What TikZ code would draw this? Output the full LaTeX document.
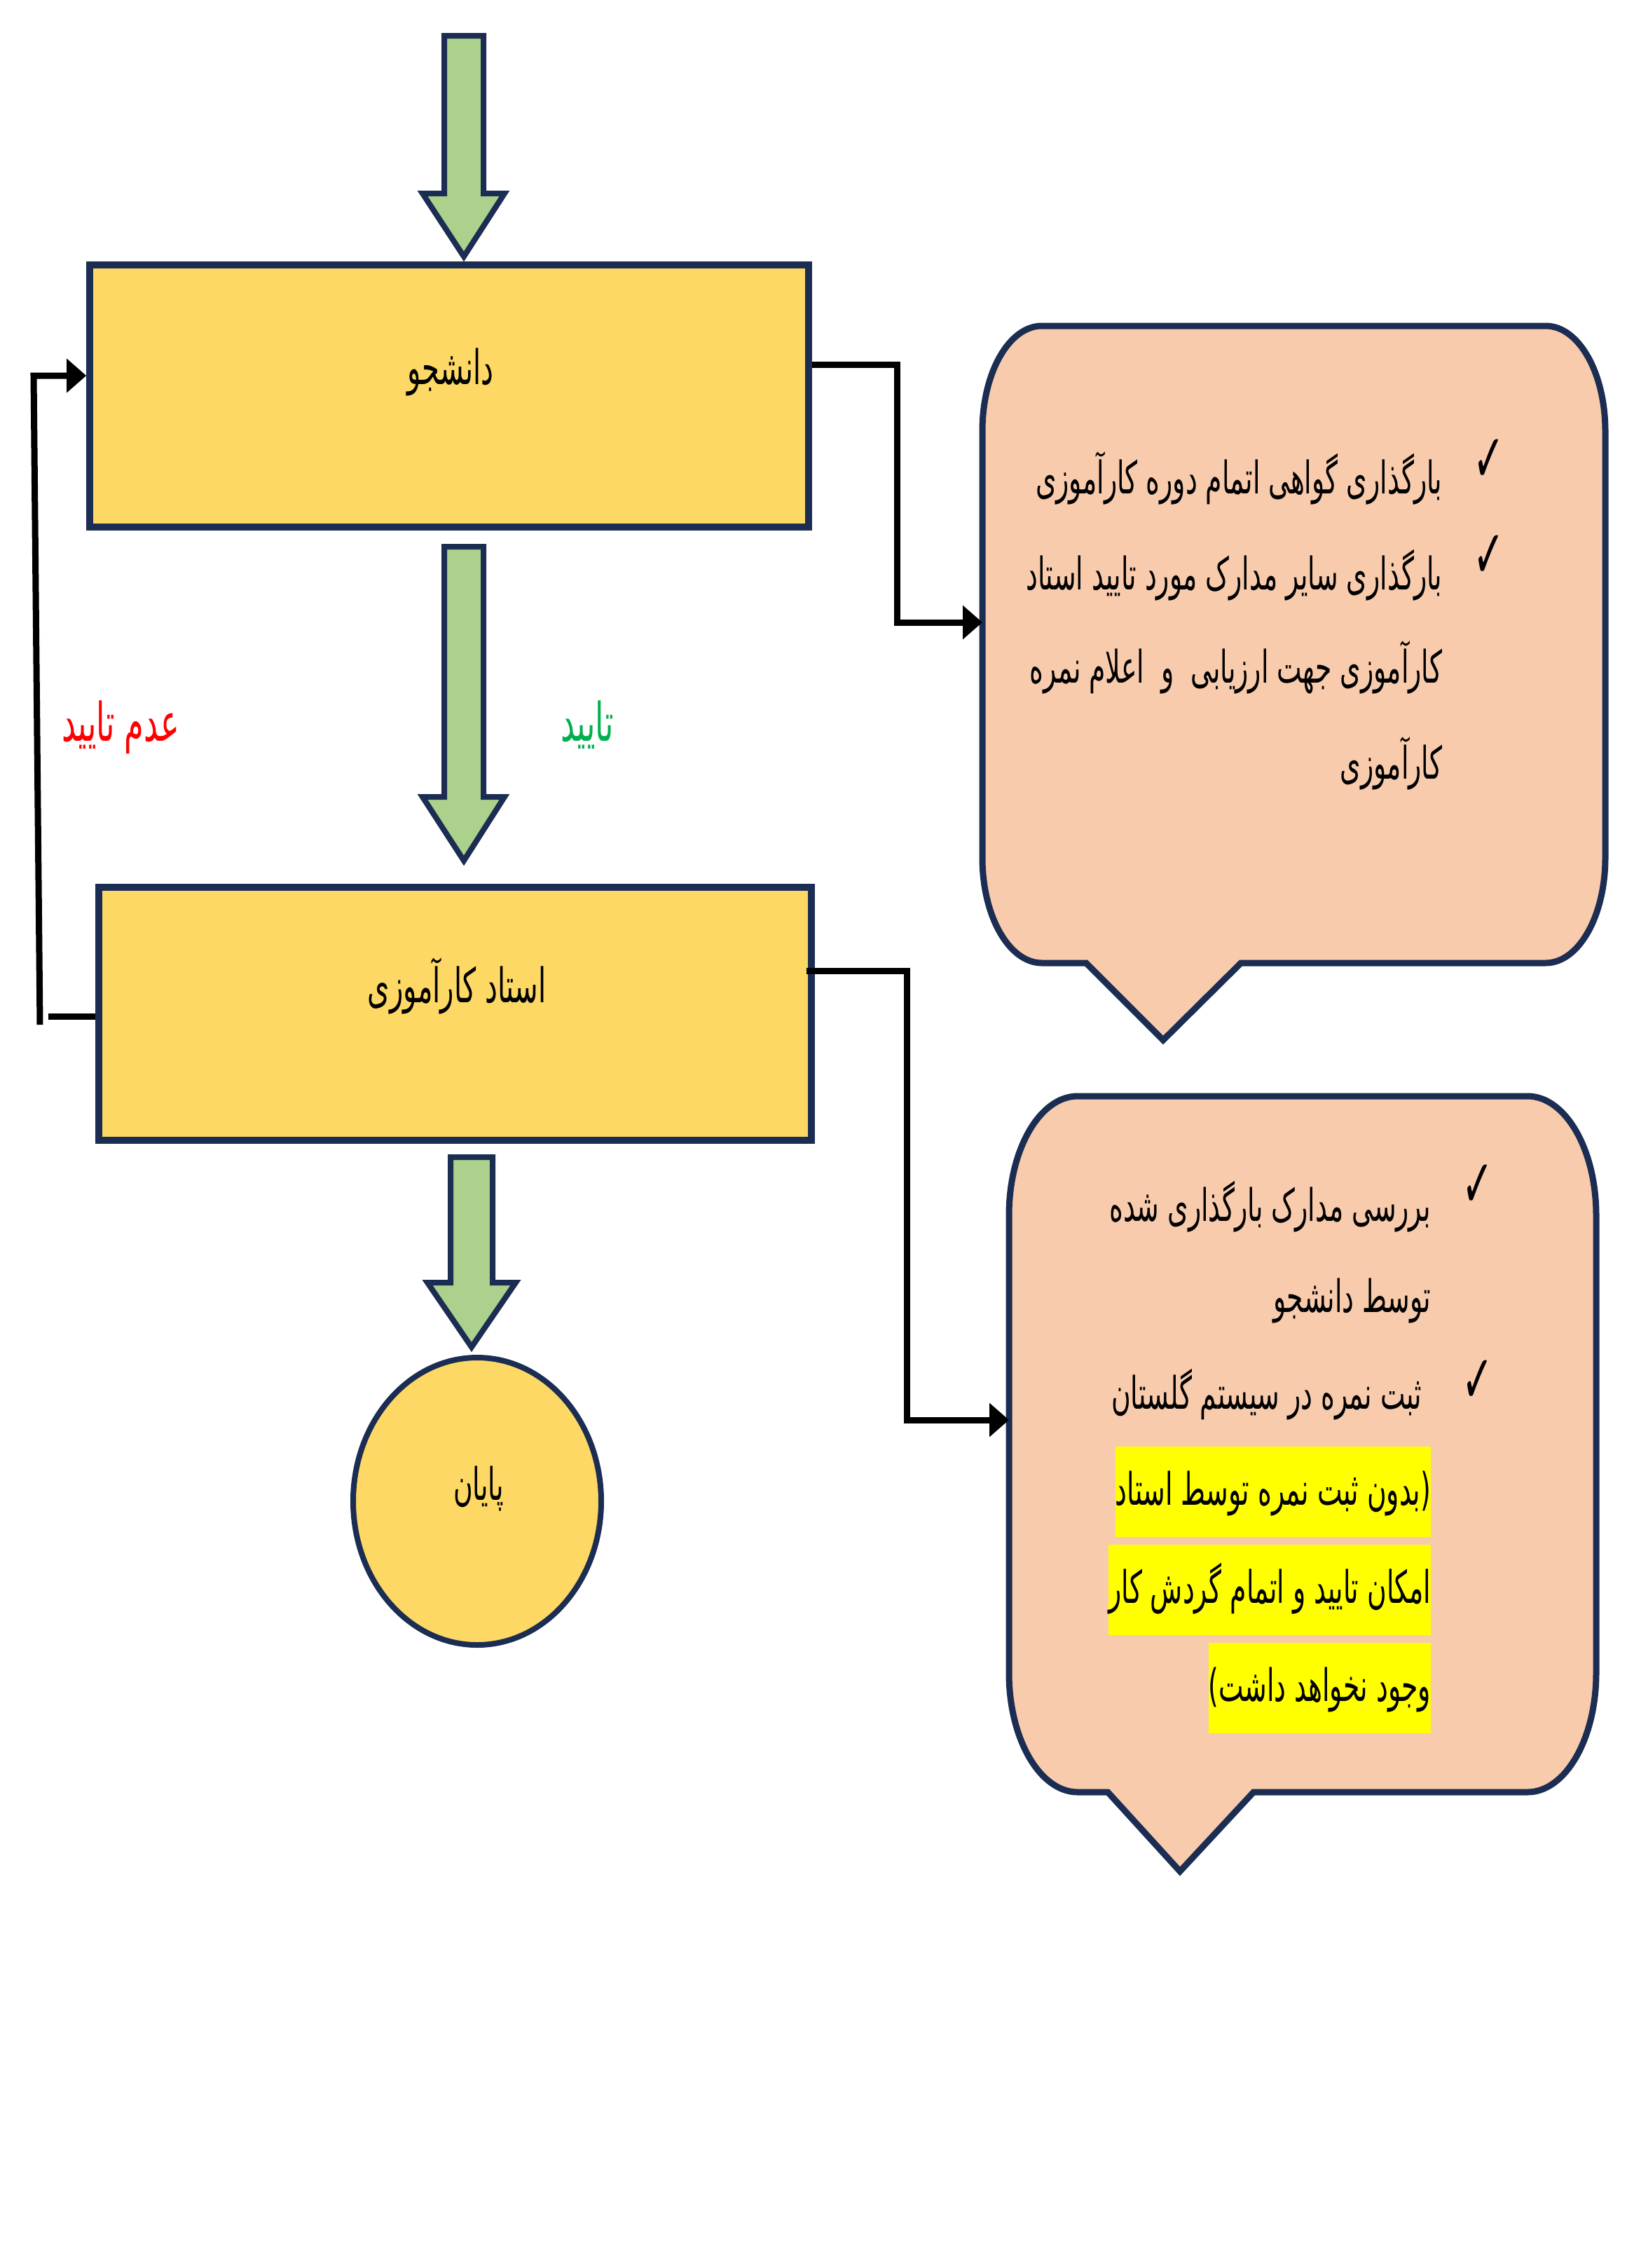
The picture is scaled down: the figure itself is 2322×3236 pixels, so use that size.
\documentclass[tikz,border=0pt]{standalone}
\usepackage{fontspec}
\usepackage{graphicx}
\usetikzlibrary{arrows.meta,shapes.geometric}
\TeXXeTstate=1
\newfontfamily\arfont[Script=Arabic]{DejaVu Sans}
\newfontfamily\symfont{DejaVu Sans}
\newcommand\artxt[1]{\scalebox{0.59}[1]{\beginR #1\endR}}
\definecolor{navy}{HTML}{1B2D52}
\definecolor{boxgold}{HTML}{FDD865}
\definecolor{arrgreen}{HTML}{ABD18C}
\definecolor{peach}{HTML}{F8CBAD}
\definecolor{okgreen}{HTML}{00B050}
\definecolor{hlyellow}{HTML}{FFFF00}
\tikzset{
  boxnode/.style={rectangle, draw=navy, line width=2.4pt, fill=boxgold, inner sep=0pt},
  blockarrow/.style={draw=navy, line width=2pt, fill=arrgreen, line join=miter},
  calloutshape/.style={draw=navy, line width=2.25pt, fill=peach, line join=miter},
  conn/.style={draw=black, line width=2.25pt, line join=miter},
  arrowed/.style={-{Triangle[length=7pt,width=11.75pt]}},
  artext/.style={font=\arfont\fontsize{16pt}{18pt}\selectfont, inner sep=0pt},
  boxtext/.style={font=\arfont\fontsize{17pt}{19pt}\selectfont, inner sep=0pt},
  labeltext/.style={font=\arfont\fontsize{19pt}{21pt}\selectfont, inner sep=0pt},
  hltext/.style={artext, fill=hlyellow, inner xsep=0pt, inner ysep=0pt, text height=20.75pt, text depth=11.5pt},
  checkmk/.style={font=\symfont\fontsize{24pt}{26pt}\selectfont, inner sep=0pt}
}
\begin{document}
\begin{tikzpicture}[x=0.25pt,y=-0.25pt]
\fill[white] (0,0) rectangle (2322,3236);
\useasboundingbox (0,0) rectangle (2322,3236);

% block arrows
\draw[blockarrow] (634,51) -- (690,51) -- (690,276) -- (720,276) -- (662,366) -- (603,276) -- (634,276) -- cycle;
\draw[blockarrow] (634,780) -- (690,780) -- (690,1137) -- (720,1137) -- (662,1228) -- (603,1137) -- (634,1137) -- cycle;
\draw[blockarrow] (643,1651) -- (703,1651) -- (703,1830) -- (736,1830) -- (673,1922) -- (610,1830) -- (643,1830) -- cycle;

% boxes
\node[boxnode, minimum width=256.5pt, minimum height=93.5pt] (b1) at (641,565) {};
\node[boxtext, anchor=base] (b1t) at (643,548) {\artxt{دانشجو}};
\node[boxnode, minimum width=254.25pt, minimum height=90.25pt] (b2) at (649.5,1446.5) {};
\node[boxtext, anchor=base] (b2t) at (652,1430) {\artxt{استاد کارآموزی}};
\node[ellipse, draw=navy, line width=2pt, fill=boxgold, minimum width=88.5pt, minimum height=102.5pt, inner sep=0pt] (fin) at (681,2142) {};
\node[artext, anchor=base] (fint) at (683,2140) {\artxt{پایان}};

% labels
\node[labeltext, anchor=base, text=red] (rej) at (172,1057) {\artxt{عدم تایید}};
\node[labeltext, anchor=base, text=okgreen] (acc) at (838,1057) {\artxt{تایید}};

% callout 1
\draw[calloutshape] (1487,465) -- (2206,465) .. controls (2253,465) and (2291,532) .. (2291,615) -- (2291,1224) .. controls (2291,1307) and (2253,1374) .. (2206,1374) -- (1771,1374) -- (1660,1484) -- (1550,1374) -- (1487,1374) .. controls (1440,1374) and (1402,1307) .. (1402,1224) -- (1402,615) .. controls (1402,532) and (1440,465) .. (1487,465) -- cycle;
\coordinate (c1in) at (1402,888);
\node[checkmk] (ck1) at (2125,657) {\scalebox{0.56}[1]{✓}};
\node[checkmk] (ck2) at (2125,794) {\scalebox{0.56}[1]{✓}};
\node[artext, anchor=base east] (t11) at (2059,704) {\artxt{بارگذاری گواهی اتمام دوره کارآموزی}};
\node[artext, anchor=base east] (t12) at (2059,841) {\artxt{بارگذاری سایر مدارک مورد تایید استاد}};
\node[artext, anchor=base east] (t13) at (2059,974) {\artxt{کارآموزی جهت ارزیابی\ \ و\ \ اعلام نمره}};
\node[artext, anchor=base east] (t14) at (2059,1111) {\artxt{کارآموزی}};

% callout 2
\draw[calloutshape] (1538,1564) -- (2180,1564) .. controls (2234,1564) and (2278,1640) .. (2278,1734) -- (2278,2387) .. controls (2278,2481) and (2234,2557) .. (2180,2557) -- (1789,2557) -- (1684,2670) -- (1581,2557) -- (1538,2557) .. controls (1484,2557) and (1440,2481) .. (1440,2387) -- (1440,1734) .. controls (1440,1640) and (1484,1564) .. (1538,1564) -- cycle;
\coordinate (c2in) at (1440,2026);
\node[checkmk] (ck3) at (2109,1692) {\scalebox{0.56}[1]{✓}};
\node[checkmk] (ck4) at (2109,1971) {\scalebox{0.56}[1]{✓}};
\node[artext, anchor=base east] (t21) at (2043,1742) {\artxt{بررسی مدارک بارگذاری شده}};
\node[artext, anchor=base east] (t22) at (2043,1872) {\artxt{توسط دانشجو}};
\node[artext, anchor=base east] (t23) at (2030,2010) {\artxt{ثبت نمره در سیستم گلستان}};
\node[hltext, anchor=base east] (t24) at (2043,2147) {\artxt{(بدون ثبت نمره توسط استاد}};
\node[hltext, anchor=base east] (t25) at (2043,2287) {\artxt{امکان تایید و اتمام گردش کار}};
\node[hltext, anchor=base east] (t26) at (2043,2427) {\artxt{وجود نخواهد داشت)}};

% connectors
\coordinate (k1) at (1280,520);
\draw[conn, arrowed] (b1.east |- k1) -- (k1) |- (c1in);
\coordinate (k2) at (1294,1385);
\draw[conn, arrowed] ([xshift=-3pt]b2.east |- k2) -- (k2) |- (c2in);
\coordinate (s1) at (69,1450);
\draw[conn] (b2.west |- s1) -- (s1);
\coordinate (v1) at (57,1462);
\coordinate (v2) at (48,536);
\draw[conn, arrowed] (v1) -- (v2) -- (b1.west |- v2);
\end{tikzpicture}
\end{document}
